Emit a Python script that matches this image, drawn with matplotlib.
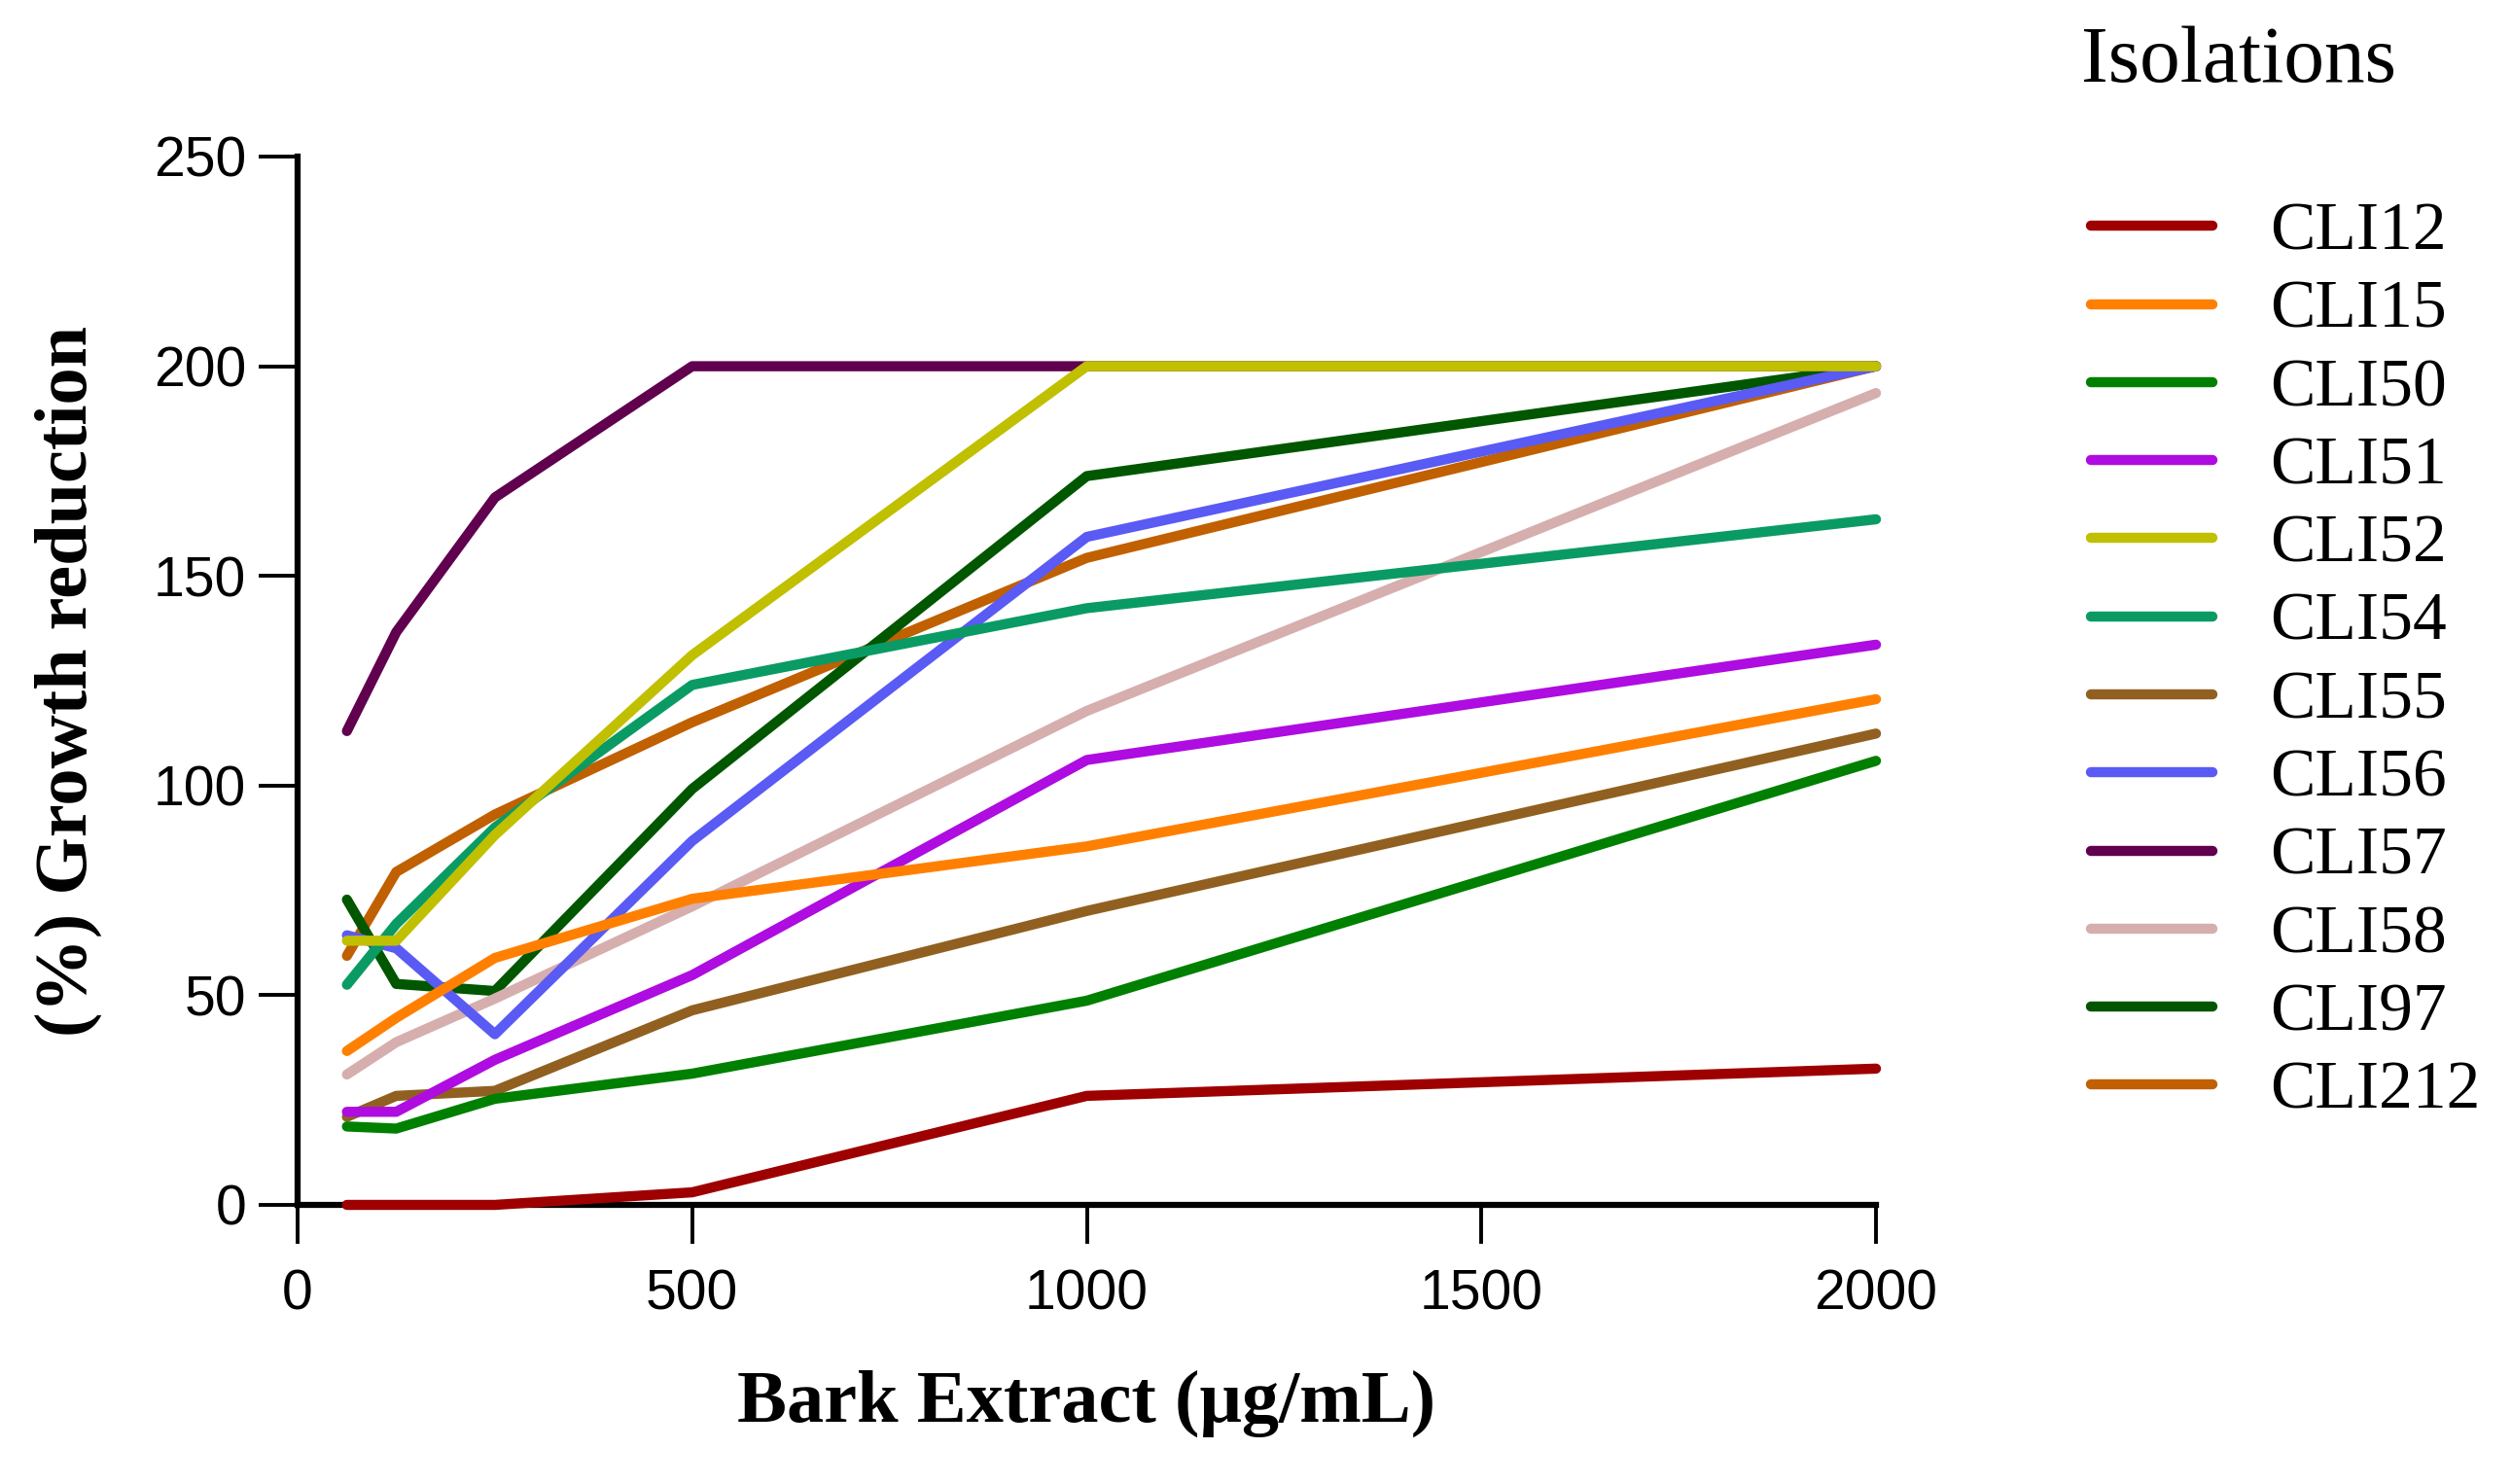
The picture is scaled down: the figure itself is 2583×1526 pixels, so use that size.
import matplotlib
matplotlib.use("Agg")
import matplotlib.pyplot as plt
from matplotlib.lines import Line2D

# concentrations of bark extract (ug/mL)
conc = [62.5, 125, 250, 500, 1000, 2000]

isolates = ["CLI12", "CLI15", "CLI50", "CLI51", "CLI52", "CLI54",
            "CLI55", "CLI56", "CLI57", "CLI58", "CLI97", "CLI212"]

# growth reduction (%)
cli12 = [0, 0, 0, 3, 26, 32.5]
cli15 = [36.7, 44.6, 58.9, 73, 85.5, 120.6]
cli50 = [18.7, 18.2, 25.3, 31.3, 48.7, 105.9]
cli51 = [22.2, 22.2, 34.6, 54.8, 106.1, 133.6]
cli52 = [63, 63, 88.2, 131.1, 200, 200]
cli54 = [52.5, 67, 90, 124, 142.3, 163.5]
cli55 = [21, 26, 27.2, 46.4, 70.1, 112.4]
cli56 = [64.3, 61.2, 40.7, 86.8, 159.3, 200]
cli57 = [113, 136.6, 168.7, 200, 200, 200]
cli58 = [31.1, 38.8, 49.2, 71.2, 117.8, 193.6]
cli97 = [72.8, 52.7, 51, 99.2, 173.8, 200]
cli212 = [59.4, 79.4, 93.1, 115.1, 154.3, 200]

series = [cli12, cli15, cli50, cli51, cli52, cli54,
          cli55, cli56, cli57, cli58, cli97, cli212]

colors = ["#9E0000", "#FF8000", "#008000", "#AE0CE0", "#C0C000", "#0A9B64",
          "#916020", "#5A5AF5", "#60004F", "#D6AEAE", "#005700", "#C06000"]

x_ticks = [0, 500, 1000, 1500, 2000]
y_ticks = [0, 50, 100, 150, 200, 250]

W, H = 2583, 1526
fig = plt.figure(figsize=(W / 100, H / 100), dpi=100)
ax = fig.add_axes([306 / W, 1 - 1239 / H, 1623 / W, 1078 / H])

lw = 7.5
n = len(series)
for i, (name, vals, c) in enumerate(zip(isolates, series, colors)):
    # later series sit underneath earlier ones
    ax.plot(conc, vals, color=c, lw=lw, solid_capstyle="round",
            solid_joinstyle="round", clip_on=False, zorder=3 + (n - i) * 0.01)

ax.set_xlim(0, 2000)
ax.set_ylim(0, 250)
ax.set_xticks(x_ticks)
ax.set_yticks(y_ticks)

for s in ["top", "right"]:
    ax.spines[s].set_visible(False)
for s in ["left", "bottom"]:
    ax.spines[s].set_linewidth(4.5)

ax.tick_params(axis="both", direction="out", length=29, width=2.8)
ax.tick_params(axis="y", pad=9)
ax.tick_params(axis="x", pad=18)
for lab in ax.get_xticklabels() + ax.get_yticklabels():
    lab.set_fontfamily("Liberation Sans")
    lab.set_fontsize(41)

label_font = dict(family="Liberation Serif", size=55, weight="bold")
ax.set_xlabel("Bark Extract (\u03bcg/mL)", fontdict=label_font, labelpad=36)
ax.set_ylabel("(%) Growth reduction", fontdict=label_font, labelpad=38)

handles = [Line2D([], [], color=c, lw=lw, solid_capstyle="round") for c in colors]
leg = ax.legend(handles, isolates, loc="upper left",
                bbox_to_anchor=(2150 / W, 1 - 208 / H), bbox_transform=fig.transFigure,
                frameon=False, prop=dict(family="Liberation Serif", size=50),
                handlelength=1.8, handletextpad=0.85, labelspacing=0.24,
                borderpad=0, borderaxespad=0)

fig.text(2302 / W, 1 - 64 / H, "Isolations", family="Liberation Serif", size=60,
         ha="center", va="center")

fig.savefig("out.png", dpi=100)
